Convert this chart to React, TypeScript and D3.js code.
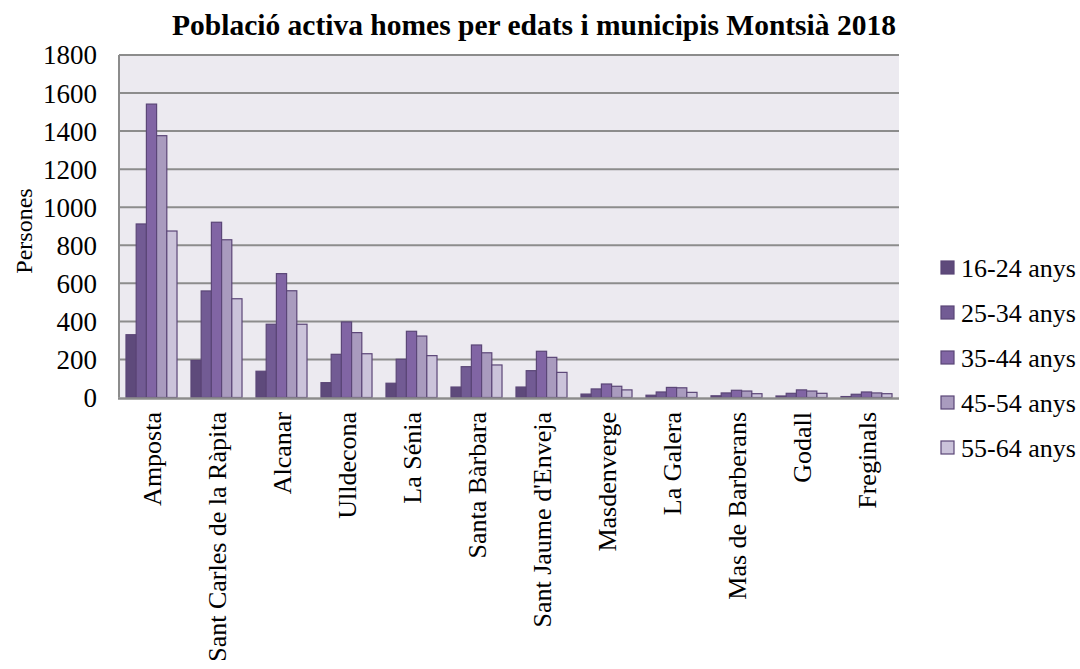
import React from "react";
import * as d3 from "d3";

const municipis = [
  "Amposta",
  "Sant Carles de la Ràpita",
  "Alcanar",
  "Ulldecona",
  "La Sénia",
  "Santa Bàrbara",
  "Sant Jaume d'Enveja",
  "Masdenverge",
  "La Galera",
  "Mas de Barberans",
  "Godall",
  "Freginals",
];
const series = ["16-24 anys", "25-34 anys", "35-44 anys", "45-54 anys", "55-64 anys"];
const v16_24 = [330, 195, 138, 78, 75, 55, 55, 18, 12, 9, 8, 5];
const v25_34 = [912, 560, 385, 227, 201, 162, 141, 45, 29, 24, 22, 17];
const v35_44 = [1542, 921, 651, 397, 348, 276, 243, 71, 53, 38, 40, 29];
const v45_54 = [1376, 829, 561, 341, 323, 235, 211, 59, 51, 34, 34, 24];
const v55_64 = [875, 519, 385, 230, 220, 171, 132, 40, 27, 20, 22, 20];
const yTicks = [0, 200, 400, 600, 800, 1000, 1200, 1400, 1600, 1800];
const colors = ["#5E4A7B", "#725B94", "#8165A4", "#A99BBE", "#CBC3DA"];

export default function App() {
  const W = 1080, H = 669;
  const left = 119, right = 899, top = 55, bottom = 397.5;
  const FS = 26;
  const values = [v16_24, v25_34, v35_44, v45_54, v55_64];
  const x0 = d3.scaleBand<string>().domain(municipis).range([left, right]).paddingInner(0.215).paddingOuter(0.1075);
  const x1 = d3.scaleBand<number>().domain(d3.range(series.length)).range([0, x0.bandwidth()]);
  const y = d3.scaleLinear().domain([0, 1800]).range([bottom, top]);
  const font = "'Liberation Serif', 'Times New Roman', serif";
  return (
    <svg width={W} height={H} style={{ position: "absolute", left: 0, top: 0, background: "#fff" }} fontFamily={font}>
      <rect x={left} y={top} width={right - left} height={bottom - top} fill="#ECEAF0" />
      {yTicks.map((t) => (
        <g key={t}>
          {t > 0 && <line x1={left} x2={right} y1={y(t)} y2={y(t)} stroke="#8C8C8C" strokeWidth={2} />}
          <text x={97} y={y(t)} dy="0.35em" textAnchor="end" fontSize={27} fill="#000">{t}</text>
        </g>
      ))}
      <line x1={left} x2={left} y1={top} y2={bottom} stroke="#8C8C8C" strokeWidth={2} />
      {municipis.map((m, i) => (
        <g key={m}>
          {values.map((vals, s) => {
            const bx = (x0(m) as number) + (x1(s) as number);
            return (
              <rect key={s} x={bx} y={y(vals[i])} width={x1.bandwidth()} height={bottom - y(vals[i])}
                fill={colors[s]} stroke="#5B4677" strokeWidth={1.2} />
            );
          })}
        </g>
      ))}
      <line x1={left - 1} x2={right} y1={bottom + 1} y2={bottom + 1} stroke="#8C8C8C" strokeWidth={2.5} />
      {municipis.map((m) => {
        const cx = (x0(m) as number) + x0.bandwidth() / 2;
        return (
          <text key={m} transform={`translate(${cx + 9},412) rotate(-90)`} textAnchor="end" fontSize={FS} fill="#000">{m}</text>
        );
      })}
      <text transform="translate(32,231) rotate(-90)" textAnchor="middle" fontSize={24} fill="#000">Persones</text>
      <text x={534} y={35} textAnchor="middle" fontSize={29.5} fontWeight="bold" fill="#000">Població activa homes per edats i municipis Montsià 2018</text>
      {series.map((s, i) => (
        <g key={s} transform={`translate(941,${268 + i * 45})`}>
          <rect x={0} y={-7} width={13} height={13} fill={colors[i]} stroke="#5B4677" strokeWidth={1.2} />
          <text x={20} y={0} dy="0.35em" fontSize={FS} fill="#000">{s}</text>
        </g>
      ))}
    </svg>
  );
}
